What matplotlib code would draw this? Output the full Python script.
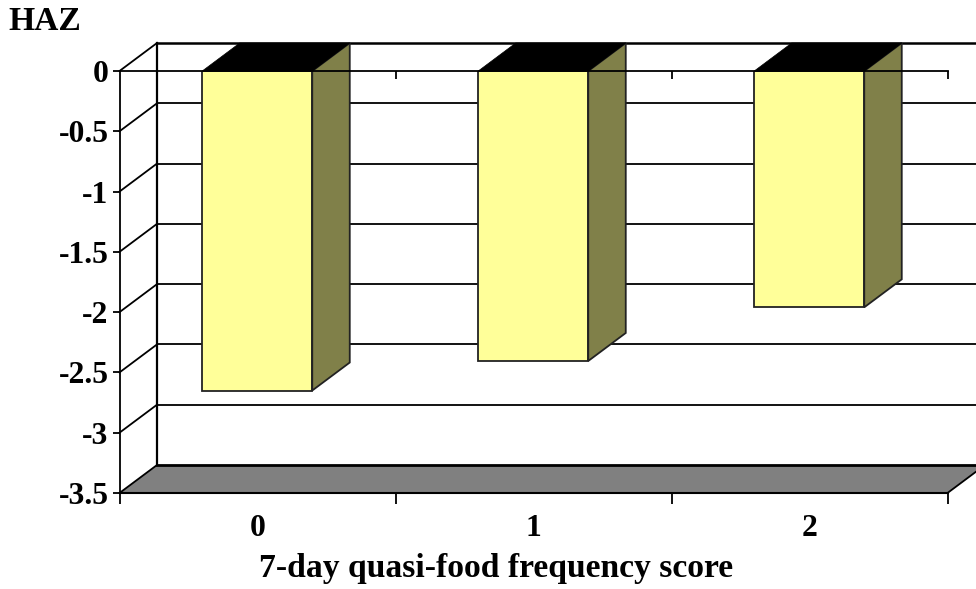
"""HAZ by 7-day quasi-food frequency score, drawn as a pseudo-3D bar chart."""

import matplotlib
matplotlib.use('Agg')
import matplotlib.pyplot as plt
from matplotlib.patches import Polygon

categories = ['0', '1', '2']
haz_values = [-2.65, -2.405, -1.96]
y_ticks = [0, -0.5, -1, -1.5, -2, -2.5, -3, -3.5]
y_tick_labels = ['0', '-0.5', '-1', '-1.5', '-2', '-2.5', '-3', '-3.5']

W, H = 976, 589
LEFT, RIGHT, TOP, BOTTOM = 119.5, 976, 71, 493
CAT_PX = 276.0
UNIT_PX = (BOTTOM - TOP) / 3.5
DX = 37.5 / CAT_PX     # depth offset in data units
DY = 28.0 / UNIT_PX
BAR_WIDTH = 110 / CAT_PX
FONT_SIZE = 24.2
TICK_FONT_SIZE = 22.8

plt.rcParams['font.family'] = ['Liberation Serif', 'DejaVu Serif']
plt.rcParams['font.weight'] = 'bold'

fig = plt.figure(figsize=(W / 100, H / 100), dpi=100)
ax = fig.add_axes([LEFT / W, 1 - BOTTOM / H, (RIGHT - LEFT) / W, (BOTTOM - TOP) / H])
ax.set_xlim(0, (RIGHT - LEFT) / CAT_PX)
ax.set_ylim(-3.5, 0)
ax.patch.set_visible(False)

n_cat = len(categories)

# floor
ax.add_patch(Polygon([(0, -3.5), (n_cat, -3.5), (n_cat + DX, -3.5 + DY), (DX, -3.5 + DY)],
                     closed=True, facecolor='#808080', edgecolor='none', clip_on=False, zorder=1))
ax.plot([DX, n_cat + 2 * DX], [-3.5 + DY, -3.5 + DY], color='black', lw=2.0, clip_on=False, zorder=1.5)
ax.plot([n_cat, n_cat + DX], [-3.5, -3.5 + DY], color='black', lw=1.3, clip_on=False, zorder=1.5)

# back wall grid and the diagonals up from the front axis
for tick in y_ticks[:-1]:
    ax.plot([DX, n_cat + 2 * DX], [tick + DY, tick + DY], color='black', lw=1.3 if tick else 1.8,
            clip_on=False, zorder=1)
    ax.plot([0, DX], [tick, tick + DY], color='black', lw=1.3, clip_on=False, zorder=1)
ax.plot([0, DX], [-3.5, -3.5 + DY], color='black', lw=1.3, clip_on=False, zorder=2)
ax.plot([DX, DX], [-3.5 + DY, DY], color='black', lw=1.6, clip_on=False, zorder=1)

# bars: front face plus side and top polygons
centers = [i + 0.5 - 0.0009 for i in range(n_cat)]
ax.bar(centers, haz_values, width=BAR_WIDTH, color='#FFFF99', edgecolor='#222222', linewidth=1.3, zorder=3)
for c, v in zip(centers, haz_values):
    right = c + BAR_WIDTH / 2
    left = c - BAR_WIDTH / 2
    ax.add_patch(Polygon([(right, 0), (right + DX, DY), (right + DX, v + DY), (right, v)],
                         closed=True, facecolor='#808049', edgecolor='#222222', linewidth=1.3,
                         clip_on=False, zorder=3))
    ax.add_patch(Polygon([(left, 0), (right, 0), (right + DX, DY), (left + DX, DY)],
                         closed=True, facecolor='black', edgecolor='black', linewidth=0.5,
                         clip_on=False, zorder=3.5))

# front zero line with its small ticks
ax.plot([0, n_cat], [0, 0], color='black', lw=1.3, clip_on=False, zorder=4)
ax.vlines(range(1, n_cat + 1), -8 / UNIT_PX, 0, color='black', lw=1.3, zorder=4)

for side in ['top', 'right']:
    ax.spines[side].set_visible(False)
ax.spines['left'].set_linewidth(1.3)
ax.spines['bottom'].set_linewidth(1.5)
ax.spines['bottom'].set_bounds(0, n_cat)
ax.spines['bottom'].set_zorder(4)

ax.set_yticks(y_ticks)
ax.set_yticklabels(y_tick_labels, fontsize=TICK_FONT_SIZE)
ax.tick_params(axis='y', length=5, width=1.3, pad=3)
ax.set_xticks(range(n_cat + 1))
ax.set_xticklabels([])
ax.tick_params(axis='x', length=8, width=1.3)
ax.set_xticks(centers, minor=True)
ax.set_xticklabels(categories, minor=True, fontsize=TICK_FONT_SIZE)
ax.tick_params(axis='x', which='minor', length=0, pad=15)

ax.set_xlabel('7-day quasi-food frequency score', fontsize=FONT_SIZE, fontweight='bold')
ax.xaxis.set_label_coords((496 - LEFT) / (RIGHT - LEFT), 1 - (568 - TOP) / (BOTTOM - TOP))
ax.xaxis.label.set_verticalalignment('center')

fig.text(8 / W, 1 - 22 / H, 'HAZ', fontsize=FONT_SIZE, fontweight='bold', va='center', ha='left')

plt.savefig('out.png', dpi=100)
plt.close()
